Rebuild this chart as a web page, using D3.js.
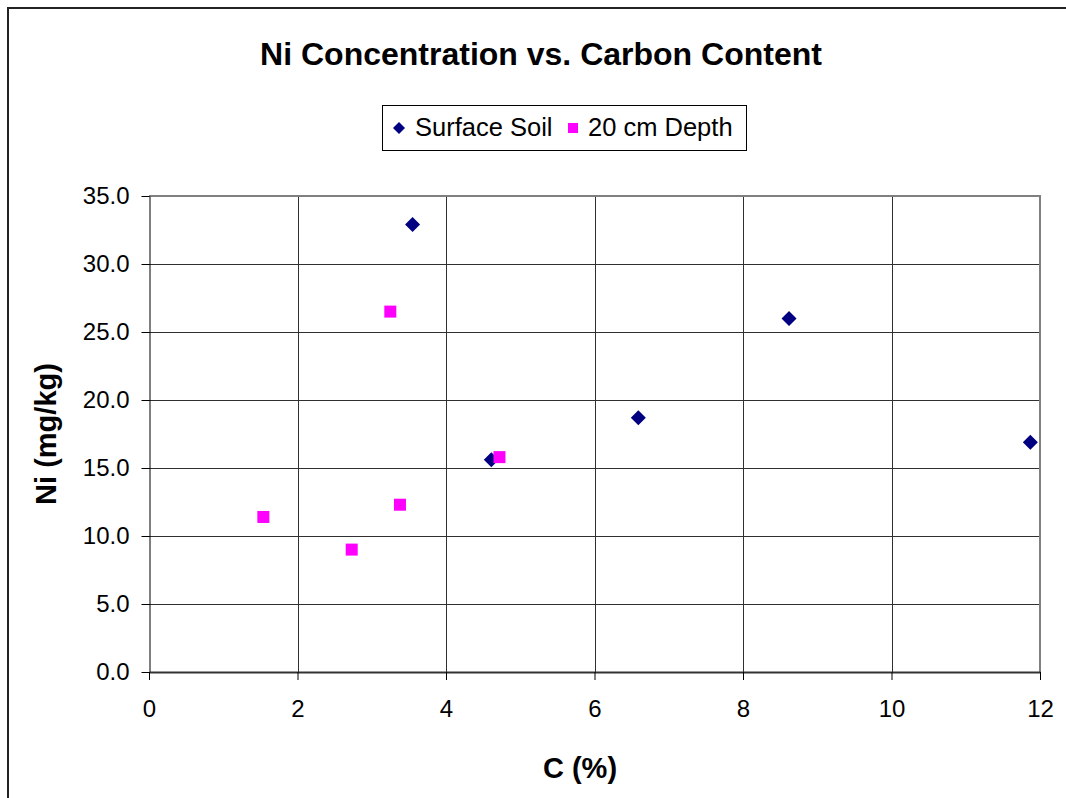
<!DOCTYPE html>
<html>
<head>
<meta charset="utf-8">
<script src="https://cdn.jsdelivr.net/npm/d3@7"></script>
<style>
  html, body { margin: 0; padding: 0; background: #fff; }
  svg { display: block; font-family: "Liberation Sans", Arial, Helvetica, sans-serif; }
</style>
</head>
<body>
<svg id="chart" width="1066" height="798"></svg>
<script>
// ---- Data ----
const chartTitle = "Ni Concentration vs. Carbon Content";
const xTitle = "C (%)";
const yTitle = "Ni (mg/kg)";
const seriesNames = ["Surface Soil", "20 cm Depth"];
const surfaceC  = [3.55, 4.61, 6.59, 8.62, 11.87];
const surfaceNi = [32.9, 15.6, 18.7, 26.0, 16.9];
const depthC    = [1.54, 2.73, 3.25, 3.38, 4.72];
const depthNi   = [11.4, 9.0, 26.5, 12.3, 15.8];
const xTicks = [0, 2, 4, 6, 8, 10, 12];
const yTicks = [0, 5, 10, 15, 20, 25, 30, 35];

const svg = d3.select("#chart");
const L = 149, R = 1040, T = 196, B = 672;
const x = d3.scaleLinear().domain([0, 12]).range([L, R]);
const y = d3.scaleLinear().domain([0, 35]).range([B, T]);

// outer chart-area border (top & left visible)
svg.append("rect").attr("x", 8).attr("y", 8).attr("width", 1100).attr("height", 850)
  .attr("fill", "#fff").attr("stroke", "#222").attr("stroke-width", 2);

// gridlines
svg.append("g").selectAll("line").data(yTicks.filter(d => d > 0 && d < 35)).join("line")
  .attr("x1", L).attr("x2", R).attr("y1", d => Math.round(y(d)) + 0.5).attr("y2", d => Math.round(y(d)) + 0.5)
  .attr("stroke", "#303030").attr("stroke-width", 1);
svg.append("g").selectAll("line").data(xTicks.filter(d => d > 0 && d < 12)).join("line")
  .attr("y1", T).attr("y2", B).attr("x1", d => Math.round(x(d)) + 0.5).attr("x2", d => Math.round(x(d)) + 0.5)
  .attr("stroke", "#303030").attr("stroke-width", 1);

// plot area border (top/right gray)
svg.append("line").attr("x1", L).attr("x2", R + 1).attr("y1", T).attr("y2", T).attr("stroke", "#808080").attr("stroke-width", 2);
svg.append("line").attr("x1", R).attr("x2", R).attr("y1", T).attr("y2", B).attr("stroke", "#808080").attr("stroke-width", 2);

// axes
const yAxis = d3.axisLeft(y).tickValues(yTicks).tickFormat(d3.format(".1f")).tickSize(8).tickSizeOuter(0).tickPadding(12);
const gy = svg.append("g").attr("transform", `translate(${L + 0.5},0)`).call(yAxis);
const xAxis = d3.axisBottom(x).tickValues(xTicks).tickFormat(d3.format("d")).tickSize(8).tickSizeOuter(0).tickPadding(20);
const gx = svg.append("g").attr("transform", `translate(0,${B})`).call(xAxis);
[gx, gy].forEach(g => {
  g.selectAll("text").attr("font-size", 24).attr("fill", "#000").attr("font-family", "Liberation Sans, Arial, sans-serif");
  g.selectAll("line").attr("stroke", "#000");
  g.select(".domain").attr("stroke", "#000");
});
gx.select(".domain").attr("stroke-width", 2).attr("stroke", "#333");

// markers
const diamond = (cx, cy, r) => `M${cx},${cy - r}L${cx + r},${cy}L${cx},${cy + r}L${cx - r},${cy}Z`;
svg.append("g").selectAll("path").data(surfaceC.map((c, i) => [c, surfaceNi[i]])).join("path")
  .attr("d", d => diamond(x(d[0]), y(d[1]), 7.5)).attr("fill", "#000080");
svg.append("g").selectAll("rect").data(depthC.map((c, i) => [c, depthNi[i]])).join("rect")
  .attr("x", d => x(d[0]) - 6).attr("y", d => y(d[1]) - 6).attr("width", 12).attr("height", 12).attr("fill", "#ff00ff");

// title
svg.append("text").attr("x", 541).attr("y", 65).attr("text-anchor", "middle")
  .attr("font-size", 32).attr("font-weight", "bold").text(chartTitle);

// axis titles
svg.append("text").attr("x", 580).attr("y", 778).attr("text-anchor", "middle")
  .attr("font-size", 29).attr("font-weight", "bold").text(xTitle);
svg.append("text").attr("transform", "translate(56,434) rotate(-90)").attr("text-anchor", "middle")
  .attr("font-size", 29).attr("font-weight", "bold").text(yTitle);

// legend
const lg = svg.append("g");
lg.append("rect").attr("x", 382.5).attr("y", 105.5).attr("width", 364).attr("height", 45)
  .attr("fill", "#fff").attr("stroke", "#000").attr("stroke-width", 1);
lg.append("path").attr("d", diamond(399, 128, 6)).attr("fill", "#000080");
lg.append("text").attr("x", 415).attr("y", 136).attr("font-size", 25.5).text(seriesNames[0]);
lg.append("rect").attr("x", 568).attr("y", 123).attr("width", 10).attr("height", 10).attr("fill", "#ff00ff");
lg.append("text").attr("x", 588).attr("y", 136).attr("font-size", 25.5).text(seriesNames[1]);
</script>
</body>
</html>
